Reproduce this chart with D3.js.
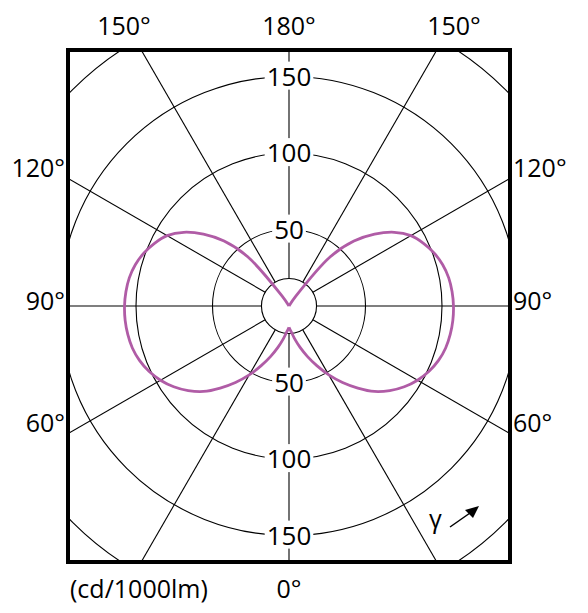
<!DOCTYPE html>
<html>
<head>
<meta charset="utf-8">
<script src="https://cdn.jsdelivr.net/npm/d3@7"></script>
<style>
  body { margin: 0; background: #fff; }
  text { font-family: "Open Sans", sans-serif; fill: #000; }
</style>
</head>
<body>
<div id="polar"></div>
<script>
// luminous intensity distribution (cd/1000lm) against gamma angle
const gammaAngles = [0, 5, 10, 15, 20, 25, 30, 35, 40, 45, 50, 55, 60, 65, 70, 75, 80, 85, 90,
    95, 100, 105, 110, 115, 120, 125, 130, 135, 140, 145, 150, 180];
const intensity = [14, 17, 22, 28, 35, 43, 52, 61, 70, 79, 86, 92, 97, 101, 104, 106, 107, 107.5, 107.5,
    107, 106, 104, 101, 97, 92, 84, 73, 60, 42, 8, 0, 0];

const ringValues = [50, 100, 150, 200];
const innerRing = 18;
const ringLabels = [50, 100, 150];
const spokeAngles = [0, 30, 60, 90, 120, 150, 180, 210, 240, 270, 300, 330];
const angleLabels = [
    { text: '150°', gamma: 150, side: 'top-left' },
    { text: '180°', gamma: 180, side: 'top' },
    { text: '150°', gamma: 150, side: 'top-right' },
    { text: '120°', gamma: 120, side: 'left' },
    { text: '90°', gamma: 90, side: 'left' },
    { text: '60°', gamma: 60, side: 'left' },
    { text: '120°', gamma: 120, side: 'right' },
    { text: '90°', gamma: 90, side: 'right' },
    { text: '60°', gamma: 60, side: 'right' },
    { text: '0°', gamma: 0, side: 'bottom' },
];

const width = 588;
const height = 613;
const box = { left: 68, top: 50, right: 510, bottom: 562 };
const cx = (box.left + box.right) / 2;
const cy = (box.top + box.bottom) / 2;

const svg = d3.select('#polar')
    .append('svg')
    .attr('width', width)
    .attr('height', height);

const r = d3.scaleLinear().domain([0, 200]).range([0, 306]);

svg.append('clipPath')
    .attr('id', 'boxclip')
    .append('rect')
    .attr('x', box.left)
    .attr('y', box.top)
    .attr('width', box.right - box.left)
    .attr('height', box.bottom - box.top);

const plot = svg.append('g').attr('clip-path', 'url(#boxclip)');
const g = plot.append('g').attr('transform', `translate(${cx},${cy})`);

// rings
g.selectAll('.ring')
    .data([innerRing].concat(ringValues))
    .enter()
    .append('circle')
    .attr('class', 'ring')
    .attr('r', (d) => r(d))
    .attr('fill', 'none')
    .attr('stroke', '#000')
    .attr('stroke-width', 1.1);

// spokes (gamma 0 points down)
g.selectAll('.spoke')
    .data(spokeAngles)
    .enter()
    .append('line')
    .attr('class', 'spoke')
    .attr('x1', (d) => r(innerRing) * Math.sin(d * Math.PI / 180))
    .attr('y1', (d) => r(innerRing) * Math.cos(d * Math.PI / 180))
    .attr('x2', (d) => r(400) * Math.sin(d * Math.PI / 180))
    .attr('y2', (d) => r(400) * Math.cos(d * Math.PI / 180))
    .attr('stroke', '#000')
    .attr('stroke-width', 1.1);

// ring labels on the vertical axis, knocked out of the grid
const labelData = [];
ringLabels.forEach((v) => {
    labelData.push({ v: v, y: -r(v) });
    labelData.push({ v: v, y: r(v) });
});
const lab = g.selectAll('.ringlabel')
    .data(labelData)
    .enter()
    .append('g')
    .attr('class', 'ringlabel')
    .attr('transform', (d) => `translate(0,${d.y})`);
lab.append('text')
    .attr('text-anchor', 'middle')
    .attr('dy', '0.35em')
    .style('font-size', '26px')
    .text((d) => d.v);
lab.each(function () {
    const bb = d3.select(this).select('text').node().getBBox();
    d3.select(this).insert('rect', 'text')
        .attr('x', bb.x - 2)
        .attr('y', bb.y + 4)
        .attr('width', bb.width + 4)
        .attr('height', bb.height - 8)
        .attr('fill', '#fff');
});

// intensity curve, one lobe each side so the cusps stay sharp
const pts = gammaAngles.map((a, i) => ({ gamma: a, value: intensity[i] }));
const lobe = (sign) => d3.lineRadial()
    .angle((d) => Math.PI - sign * d.gamma * Math.PI / 180)
    .radius((d) => r(d.value))
    .curve(d3.curveCatmullRom.alpha(0.5));

[1, -1].forEach((s) => {
    g.append('path')
        .datum(pts)
        .attr('fill', 'none')
        .attr('stroke', '#b05ca6')
        .attr('stroke-width', 2.8)
        .attr('stroke-linejoin', 'round')
        .attr('d', lobe(s));
});

// frame
svg.append('rect')
    .attr('x', box.left)
    .attr('y', box.top)
    .attr('width', box.right - box.left)
    .attr('height', box.bottom - box.top)
    .attr('fill', 'none')
    .attr('stroke', '#000')
    .attr('stroke-width', 4);

// angle labels outside the frame
const sideLabel = (d) => {
    if (d.side === 'top') return { x: cx, y: 35, anchor: 'middle' };
    if (d.side === 'top-left') return { x: cx - 165, y: 35, anchor: 'middle' };
    if (d.side === 'top-right') return { x: cx + 165, y: 35, anchor: 'middle' };
    if (d.side === 'bottom') return { x: cx, y: 598, anchor: 'middle' };
    const yOff = { 120: -129, 90: 4, 60: 126 }[d.gamma];
    if (d.side === 'left') return { x: box.left - 3, y: cy + yOff, anchor: 'end' };
    return { x: box.right + 3, y: cy + yOff, anchor: 'start' };
};
svg.selectAll('.anglelabel')
    .data(angleLabels)
    .enter()
    .append('text')
    .attr('class', 'anglelabel')
    .attr('x', (d) => sideLabel(d).x)
    .attr('y', (d) => sideLabel(d).y)
    .attr('text-anchor', (d) => sideLabel(d).anchor)
    .style('font-size', '25px')
    .text((d) => d.text);

svg.append('text')
    .attr('x', 70)
    .attr('y', 598)
    .style('font-size', '25px')
    .text('(cd/1000lm)');

// gamma direction hint
svg.append('text')
    .attr('x', 429)
    .attr('y', 528)
    .style('font-size', '25px')
    .text('γ');
svg.append('line')
    .attr('x1', 450).attr('y1', 527)
    .attr('x2', 470).attr('y2', 513)
    .attr('stroke', '#000')
    .attr('stroke-width', 1.5);
svg.append('path')
    .attr('d', 'M479,506 L465,510 L473,518 Z')
    .attr('fill', '#000');
</script>
</body>
</html>
